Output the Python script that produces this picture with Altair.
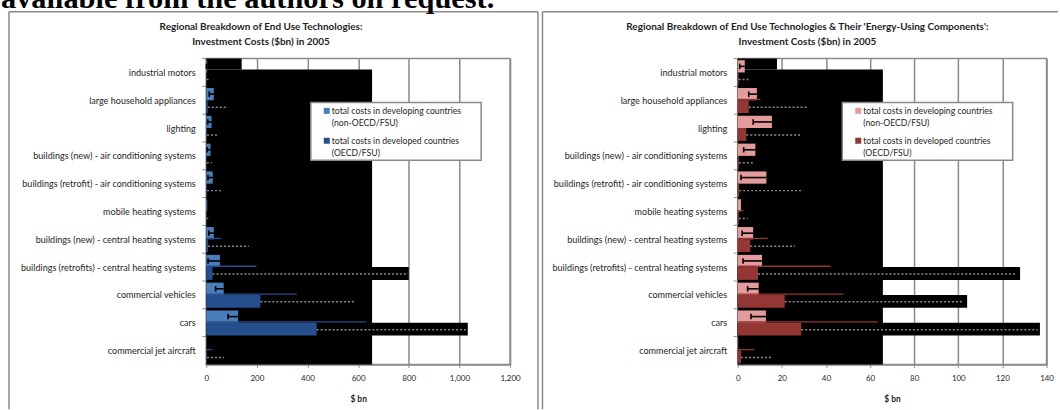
import altair as alt
import pandas as pd

# ---------------- data ----------------
categories = [
    "industrial motors",
    "large household appliances",
    "lighting",
    "buildings (new) - air conditioning systems",
    "buildings (retrofit) - air conditioning systems",
    "mobile heating systems",
    "buildings (new) - central heating systems",
    "buildings (retrofits) - central heating systems",
    "commercial vehicles",
    "cars",
    "commercial jet aircraft",
]
series = ["developing", "developed"]
legend_lines = [
    ["total costs in developing countries", "(non-OECD/FSU)"],
    ["total costs in developed countries", "(OECD/FSU)"],
]

# Left panel: end use technologies ($bn)
tech_developing = [4, 30, 21, 17, 26, 4, 30, 54, 69, 126, 1]
tech_developing_low = [1, 12, 6, 4, 7, 4, 10, 7, 37, 86, 1]
tech_developed = [1, 6, 3, 2, 3, 1, 7, 25, 214, 436, 3]
tech_developed_high = [12, 86, 50, 22, 63, 8, 168, 797, 587, 1030, 70]
tech_developed_line = [0, 0, 0, 0, 0, 0, 59, 198, 358, 633, 25]
tech_black_ext = [0, 0, 0, 0, 0, 0, 0, 800, 0, 1033, 0]
tech_black_block = [140, 655]

# Right panel: energy-using components ($bn)
comp_developing = [3.2, 8.7, 15.5, 8.0, 13.0, 1.5, 7.0, 11.0, 9.5, 12.8, 0.2]
comp_developing_low = [0.9, 5.0, 7.0, 2.7, 1.5, 1.5, 2.0, 2.4, 4.5, 6.0, 0.2]
comp_developed = [0.4, 5.0, 3.9, 0.5, 0.7, 0.5, 5.7, 9.2, 21.3, 28.8, 1.5]
comp_developed_high = [5, 31.7, 28.7, 7, 29.6, 4.5, 26, 126.4, 102, 136, 15.5]
comp_developed_line = [0, 10.3, 0, 0, 0, 2.7, 13.6, 42, 48, 63.5, 7.5]
comp_black_ext = [0, 0, 0, 0, 0, 0, 0, 128, 104, 137, 0]
comp_black_block = [17.8, 65.8]

left_colors = ["#4A7EBB", "#254E8C"]
right_colors = ["#E39C9B", "#943634"]

left_title = ["Regional Breakdown of End Use Technologies:", "Investment Costs ($bn) in 2005"]
right_title = ["Regional Breakdown of End Use Technologies & Their 'Energy-Using Components':",
               "Investment Costs ($bn) in 2005"]
page_text = "available from the authors on request."

FONT = "Lato"
GRAY = "#8A8A8A"
TXT = "#1E1E1E"
H = 307
ONE = pd.DataFrame({"a": [0]})


def deco_rule(x, x2, y, y2, color=GRAY, width=1.5):
    return alt.Chart(ONE).mark_rule(color=color, strokeWidth=width).encode(
        x=alt.value(x), x2=alt.value(x2), y=alt.value(y), y2=alt.value(y2))


def panel(dev, dev_low, dvd, dvd_high, dvd_line, ext, block, xmax, xstep, colors,
          title_lines, width, frame_left, frame_right, frame_right_edge, title_x,
          anchor_x, with_page_text):
    n = len(categories)
    idx = list(range(n))
    xscale = alt.Scale(domain=[0, xmax], nice=False, zero=True)
    yscale = alt.Scale(domain=[0, n], reverse=True, nice=False, zero=False)
    xaxis = alt.Axis(values=list(range(0, xmax + 1, xstep)), format=",.0f", title="$ bn",
                     grid=True, tickSize=3, labelPadding=7, titlePadding=12,
                     labelFlush=False)
    label_expr = "[" + ",".join("'" + c + "'" for c in categories) + "][floor(datum.value)]"
    yaxis = alt.Axis(values=[i + 0.5 for i in idx], labelExpr=label_expr, ticks=False,
                     labelPadding=11, title=None, grid=False, labelLimit=400)

    def X(f):
        return alt.X(f, type="quantitative", scale=xscale, axis=xaxis)

    def Y(f):
        return alt.Y(f, type="quantitative", scale=yscale, axis=yaxis)

    bars = pd.DataFrame({
        "series": [series[0]] * n + [series[1]] * n,
        "v0": [0] * (2 * n),
        "value": dev + dvd,
        "y0": [i + 0.06 for i in idx] + [i + 0.5 for i in idx],
        "y1": [i + 0.5 for i in idx] + [i + 0.96 for i in idx],
    })
    blk = pd.DataFrame({"x0": [0, 0], "x1": block, "y0": [0, 0.39], "y1": [0.39, n]})
    extdf = pd.DataFrame({"x0": [0] * n, "x1": ext, "y0": [i + 0.5 for i in idx],
                          "y1": [i + 0.96 for i in idx]})
    extdf = extdf[extdf.x1 > 0]
    linedf = pd.DataFrame({"x0": [0] * n, "x1": dvd_line, "y": [i + 0.47 for i in idx]})
    linedf = linedf[linedf.x1 > 0]
    updf = pd.DataFrame({"x0": dvd, "x1": dvd_high, "y": [i + 0.75 for i in idx]})
    errdf = pd.DataFrame({"lo": dev_low, "v": dev, "y": [i + 0.28 for i in idx],
                          "c0": [i + 0.18 for i in idx], "c1": [i + 0.38 for i in idx]})
    errdf = errdf[errdf.lo < errdf.v]
    tickdf = pd.DataFrame({"b": list(range(n))})

    layers = []
    # invisible anchor fixing the top (and left) of the layout; it lies off-page
    layers.append(alt.Chart(ONE).mark_rect(color="white").encode(
        x=alt.value(anchor_x), x2=alt.value(anchor_x + 1),
        y=alt.value(-150), y2=alt.value(-149)))
    # chart-area frame
    bottom = 352
    layers.append(deco_rule(frame_left, frame_right_edge, -47, -47))
    layers.append(deco_rule(frame_left, frame_left, -47, bottom))
    if frame_right is not None:
        layers.append(deco_rule(frame_right, frame_right, -47, bottom))
    if with_page_text:
        layers.append(alt.Chart(ONE).mark_text(
            font="Liberation Serif", fontWeight="bold", fontSize=30.5, align="left",
            baseline="alphabetic", color="black").encode(
            x=alt.value(anchor_x), y=alt.value(-51), text=alt.value(page_text)))
    layers.append(alt.Chart(ONE).mark_text(
        font=FONT, fontWeight="bold", fontSize=10, align="center", baseline="top",
        lineHeight=14.5, color=TXT).encode(
        x=alt.value(title_x), y=alt.value(-36.5), text=alt.value(title_lines)))

    layers.append(alt.Chart(blk).mark_rect(color="black").encode(
        x=X("x0"), x2="x1", y=Y("y0"), y2="y1"))
    layers.append(alt.Chart(extdf).mark_rect(color="black").encode(
        x=X("x0"), x2="x1", y=Y("y0"), y2="y1"))
    layers.append(alt.Chart(bars).mark_rect().encode(
        x=X("v0"), x2="value", y=Y("y0"), y2="y1",
        color=alt.Color("series:N", scale=alt.Scale(domain=series, range=colors), legend=None)))
    layers.append(alt.Chart(linedf).mark_rule(color=colors[1], strokeWidth=1.3).encode(
        x=X("x0"), x2="x1", y=Y("y")))
    layers.append(alt.Chart(updf).mark_rule(color="#8a8a8a", strokeWidth=1.5,
                                            strokeDash=[2, 2]).encode(
        x=X("x0"), x2="x1", y=Y("y")))
    layers.append(alt.Chart(errdf).mark_rule(color="black", strokeWidth=1.6).encode(
        x=X("lo"), x2="v", y=Y("y")))
    layers.append(alt.Chart(errdf).mark_rule(color="black", strokeWidth=1.6).encode(
        x=X("lo"), y=Y("c0"), y2="c1"))
    layers.append(alt.Chart(tickdf).mark_rule(color=GRAY, strokeWidth=1).encode(
        x=alt.value(-4), x2=alt.value(0), y=Y("b")))

    # legend box
    layers.append(alt.Chart(ONE).mark_rect(
        fill="white", stroke=GRAY, strokeWidth=1.5).encode(
        x=alt.value(105), x2=alt.value(276), y=alt.value(44), y2=alt.value(102)))
    for k in range(2):
        layers.append(alt.Chart(ONE).mark_rect(color=colors[k]).encode(
            x=alt.value(118), x2=alt.value(124), y=alt.value(49.5 + 30 * k),
            y2=alt.value(55.5 + 30 * k)))
        layers.append(alt.Chart(ONE).mark_text(
            font=FONT, fontSize=8.7, align="left", baseline="middle", lineHeight=12,
            color=TXT).encode(
            x=alt.value(126), y=alt.value(52.5 + 30 * k), text=alt.value(legend_lines[k])))

    return alt.layer(*layers).properties(width=width, height=H)


left = panel(tech_developing, tech_developing_low, tech_developed, tech_developed_high,
             tech_developed_line, tech_black_ext, tech_black_block, 1200, 200, left_colors,
             left_title, 305, -198, 333, 333, 55, -206, True)
right = panel(comp_developing, comp_developing_low, comp_developed, comp_developed_high,
              comp_developed_line, comp_black_ext, comp_black_block, 140, 20, right_colors,
              right_title, 310, -196, None, 321.5, 70, 0, False)

chart = alt.hconcat(left, right, spacing=0.5).resolve_scale(color="independent").properties(
    padding={"left": 0, "top": -93, "right": 0, "bottom": 0},
    background="white",
).configure_view(stroke=GRAY, strokeWidth=1.5).configure_axis(
    labelFont=FONT, titleFont=FONT, labelColor=TXT, titleColor=TXT,
    domainColor=GRAY, tickColor=GRAY, gridColor=GRAY, gridWidth=1.5, domainWidth=1.5,
).configure_axisX(labelFontSize=8, titleFontSize=8.5, titleFontWeight="bold"
).configure_axisY(labelFontSize=9.1)

chart.save("out.html", embed_options={"renderer": "svg", "actions": False})
